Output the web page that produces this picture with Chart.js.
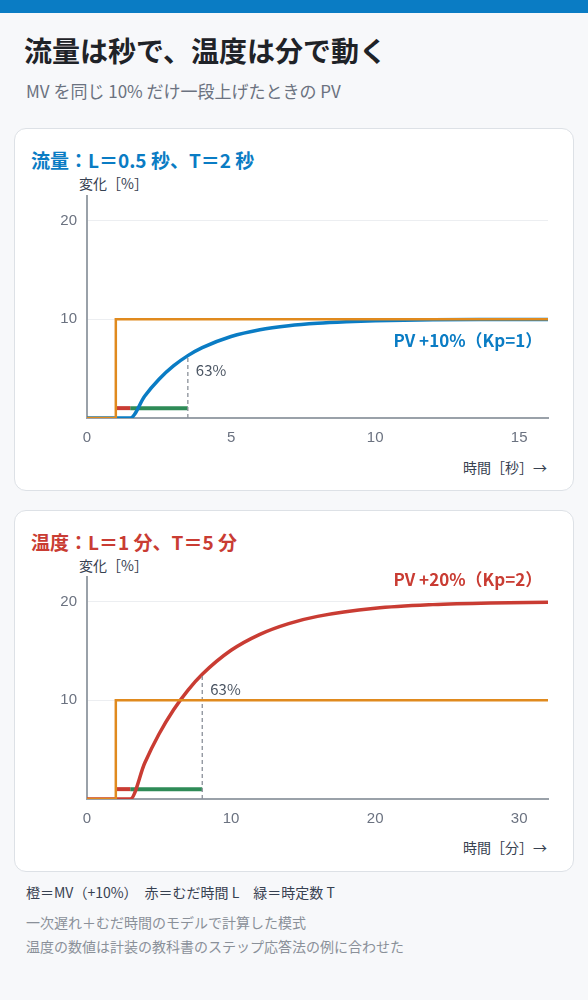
<!DOCTYPE html>
<html><head><meta charset="utf-8">
<script src="https://cdn.jsdelivr.net/npm/chart.js@4/dist/chart.umd.min.js"></script>
<style>
body{margin:0;width:588px;height:1000px;background:#f7f8fa;font-family:"Noto Sans CJK JP","Noto Sans",sans-serif;position:relative;overflow:hidden}
.bar{position:absolute;left:0;top:0;width:588px;height:13px;background:#0a7cc4}
h1{position:absolute;left:24px;top:30px;margin:0;font-size:28px;font-weight:700;color:#1f2328}
.sub{position:absolute;left:26px;top:78px;font-size:17px;color:#6b7280}
.card{position:absolute;left:14px;width:558px;background:#fff;border:1.5px solid #dde1e6;border-radius:12px}
.ct{position:absolute;left:16px;top:17px;font-size:19px;font-weight:700}
.yl{position:absolute;left:64px;top:44px;font-size:14px;color:#374151}
.xl{position:absolute;right:26px;font-size:14px;color:#374151}
canvas{position:absolute}
.f{position:absolute;left:26px;font-size:14px}
</style></head><body>
<div class="bar"></div>
<h1>流量は秒で、温度は分で動く</h1>
<div class="sub">MV を同じ 10% だけ一段上げたときの PV</div>
<div class="card" style="top:128px;height:361px">
 <div class="ct" style="color:#0a7cc4">流量：L＝0.5 秒、T＝2 秒</div>
 <div class="yl">変化［%］</div>
 <div class="xl" style="top:328px">時間［秒］→</div>
 <div style="position:absolute;left:10px;top:48px;width:540px;height:273px"><canvas id="c1"></canvas></div>
</div>
<div class="card" style="top:510px;height:360px">
 <div class="ct" style="color:#c93c33">温度：L＝1 分、T＝5 分</div>
 <div class="yl">変化［%］</div>
 <div class="xl" style="top:326px">時間［分］→</div>
 <div style="position:absolute;left:10px;top:47px;width:540px;height:273px"><canvas id="c2"></canvas></div>
</div>
<div class="f" style="top:882px;color:#374151">橙＝MV（+10%）　赤＝むだ時間 L　緑＝時定数 T</div>
<div class="f" style="top:912px;color:#8a9099">一次遅れ＋むだ時間のモデルで計算した模式</div>
<div class="f" style="top:936px;color:#8a9099">温度の数値は計装の教科書のステップ応答法の例に合わせた</div>
<script>
// flow chart data (seconds)
const flowT=[0,1.5,2,2.5,3,3.5,4,5,6,7,8,9,10,12,14,16];
const flowPV=[0,0,2.21,3.93,5.28,6.32,7.13,8.26,8.95,9.36,9.61,9.76,9.86,9.95,9.98,9.99];
const flowMV=[[0,0],[1,0],[1,10],[16,10]];
const flowL=[[1,1],[1.5,1]];
const flowTc=[[1.5,1],[3.5,1]];
const flow63=[[3.5,0],[3.5,6.32]];
// temperature chart data (minutes)
const tempT=[0,3,4,5,6,7,8,10,12,14,16,20,24,28,32];
const tempPV=[0,0,3.63,6.59,9.02,11.01,12.64,15.07,16.69,17.78,18.51,19.33,19.70,19.87,19.94];
const tempMV=[[0,0],[2,0],[2,10],[32,10]];
const tempL=[[2,1],[3,1]];
const tempTc=[[3,1],[8,1]];
const temp63=[[8,0],[8,12.64]];
const xTicks1=[0,5,10,15], xTicks2=[0,10,20,30], yTicks=[10,20];
const C={blue:'#0a7cc4',orange:'#e08a1e',red:'#c93c33',green:'#2e8b57',gray:'#8a9099'};
const pts=a=>a.map(p=>({x:p[0],y:p[1]}));
function make(id,T,PV,MV,L,Tc,d63,xmax,xt,pvColor,pvLabel,lblX,lblY,align){
 const labels={id:'lbl',afterDatasetsDraw(ch){const c=ch.ctx,x=ch.scales.x,y=ch.scales.y;c.save();
  c.font='bold 17px "Noto Sans CJK JP"';c.fillStyle=pvColor;c.textAlign=align;c.textBaseline='middle';
  c.fillText(pvLabel,x.getPixelForValue(lblX),y.getPixelForValue(lblY));
  c.font='15px "Noto Sans CJK JP"';c.fillStyle='#4b5563';c.textAlign='left';
  c.fillText('63%',x.getPixelForValue(d63[0][0])+8,y.getPixelForValue(d63[1][1])+15);c.restore();}};
 new Chart(document.getElementById(id),{type:'scatter',
  data:{datasets:[
   {data:pts(MV),showLine:true,borderColor:C.orange,borderWidth:2.5,pointRadius:0},
   {data:pts(d63),showLine:true,borderColor:C.gray,borderWidth:1.3,borderDash:[4,3],pointRadius:0},
   {data:T.map((t,i)=>({x:t,y:PV[i]})),showLine:true,borderColor:pvColor,borderWidth:3.5,pointRadius:0,cubicInterpolationMode:'monotone'},
   {data:pts(L),showLine:true,borderColor:C.red,borderWidth:4,pointRadius:0},
   {data:pts(Tc),showLine:true,borderColor:C.green,borderWidth:4,pointRadius:0}]},
  options:{responsive:true,maintainAspectRatio:false,animation:false,layout:{padding:{top:0,right:17}},
   plugins:{legend:{display:false},tooltip:{enabled:false}},
   scales:{
    x:{type:'linear',min:0,max:xmax,afterBuildTicks:s=>{s.ticks=xt.map(v=>({value:v}))},
     grid:{display:false},border:{color:'#9aa1a9',width:2},
     ticks:{color:'#6b7280',font:{size:15}}},
    y:{min:0,max:22.5,afterBuildTicks:s=>{s.ticks=[0,...yTicks].map(v=>({value:v}))},
     afterFit:s=>{s.width=62},
     grid:{color:c=>c.tick.value===0?'rgba(0,0,0,0)':'#eceef1',drawTicks:false},border:{color:'#9aa1a9',width:2},
     ticks:{color:'#6b7280',font:{size:15},padding:10,callback:v=>v===0?'':v}}}},
  plugins:[labels]});
}
make('c1',flowT,flowPV,flowMV,flowL,flowTc,flow63,16,xTicks1,C.blue,'PV +10%（Kp=1）',15.8,7.8,'right');
make('c2',tempT,tempPV,tempMV,tempL,tempTc,temp63,32,xTicks2,C.red,'PV +20%（Kp=2）',31.6,22.2,'right');
</script>
</body></html>
